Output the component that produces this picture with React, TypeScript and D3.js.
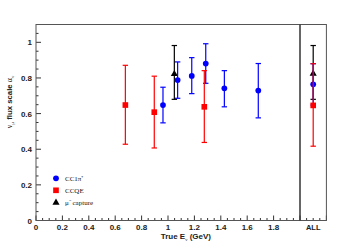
import React, { useEffect, useRef } from 'react';
import * as d3 from 'd3';

interface Pt {
  e: number;
  v: number;
  hi: number;
  lo: number;
}

// blue: CC1pi+, red: CCQE, black: mu- capture; e = 2.1 is the "ALL" bin
const cc1piE = [0.962, 1.073, 1.18, 1.286, 1.427, 1.684, 2.1];
const cc1piV = [0.648, 0.788, 0.811, 0.881, 0.742, 0.729, 0.764];
const cc1piHi = [0.748, 0.89, 0.914, 0.992, 0.841, 0.881, 0.88];
const cc1piLo = [0.548, 0.686, 0.712, 0.77, 0.638, 0.576, 0.648];

const ccqeE = [0.677, 0.896, 1.275, 2.1];
const ccqeV = [0.648, 0.608, 0.638, 0.646];
const ccqeHi = [0.871, 0.81, 0.841, 0.88];
const ccqeLo = [0.428, 0.407, 0.438, 0.417];

const capE = [1.048, 2.1];
const capV = [0.822, 0.824];
const capHi = [0.982, 0.982];
const capLo = [0.68, 0.68];

const xTicks = [0, 0.2, 0.4, 0.6, 0.8, 1, 1.2, 1.4, 1.6, 1.8];
const yTicks = [0, 0.2, 0.4, 0.6, 0.8, 1];

const zip = (e: number[], v: number[], hi: number[], lo: number[]): Pt[] =>
  e.map((d, i) => ({ e: d, v: v[i], hi: hi[i], lo: lo[i] }));

const App: React.FC = () => {
  const svgRef = useRef<SVGSVGElement>(null);

  useEffect(() => {
    if (!svgRef.current) return;
    const svg = d3.select(svgRef.current);
    svg.selectAll('*').remove();

    const x = d3.scaleLinear().domain([0, 2.2]).range([36, 326.4]);
    const y = d3.scaleLinear().domain([0, 1.1]).range([220.5, 24.5]);
    const axisFont = '"Liberation Sans", Arial, sans-serif';

    // minor + major ticks (inside the frame)
    const g = svg.append('g').attr('stroke', '#333').attr('stroke-width', 1);
    d3.range(0, 2.2001, 0.05).forEach(t => {
      const major = Math.abs(t / 0.2 - Math.round(t / 0.2)) < 1e-6;
      g.append('line')
        .attr('x1', x(t)).attr('x2', x(t))
        .attr('y1', y(0)).attr('y2', y(0) - (major ? 5 : 2.5));
    });
    d3.range(0, 1.1001, 0.05).forEach(t => {
      const major = Math.abs(t / 0.2 - Math.round(t / 0.2)) < 1e-6;
      g.append('line')
        .attr('x1', x(0)).attr('x2', x(0) + (major ? 5 : 2.5))
        .attr('y1', y(t)).attr('y2', y(t));
    });

    // frame
    svg.append('rect')
      .attr('x', x(0)).attr('y', y(1.1))
      .attr('width', x(2.2) - x(0)).attr('height', y(0) - y(1.1))
      .attr('fill', 'none').attr('stroke', '#555').attr('stroke-width', 1);
    svg.append('line')
      .attr('x1', x(2)).attr('x2', x(2))
      .attr('y1', y(1.1)).attr('y2', y(0))
      .attr('stroke', '#333').attr('stroke-width', 1.5);

    // tick labels
    svg.append('g').selectAll('text').data(yTicks).enter().append('text')
      .attr('x', 32).attr('y', d => y(d) + 3)
      .attr('text-anchor', 'end')
      .attr('font-family', axisFont).attr('font-weight', 'bold').attr('font-size', 8)
      .attr('fill', '#222')
      .text(d => (d === 0 || d === 1 ? String(d) : d.toFixed(1)));
    svg.append('g').selectAll('text').data(xTicks).enter().append('text')
      .attr('x', d => x(d)).attr('y', 230)
      .attr('text-anchor', 'middle')
      .attr('font-family', axisFont).attr('font-weight', 'bold').attr('font-size', 8)
      .attr('fill', '#222')
      .text(d => (d === 0 || d === 1 ? String(d) : d.toFixed(1)));
    svg.append('text')
      .attr('x', x(2.1)).attr('y', 230)
      .attr('text-anchor', 'middle')
      .attr('font-family', axisFont).attr('font-weight', 'bold').attr('font-size', 7.5)
      .attr('fill', '#222')
      .text('ALL');

    // axis titles
    const xt = svg.append('text')
      .attr('x', 211).attr('y', 239)
      .attr('text-anchor', 'end')
      .attr('font-family', axisFont).attr('font-weight', 'bold').attr('font-size', 8)
      .attr('fill', '#222');
    xt.append('tspan').text('True E');
    xt.append('tspan').attr('font-size', 5).attr('dy', 1.5).attr('font-family', 'serif').attr('font-weight', 'normal').text('ν');
    xt.append('tspan').attr('dy', -1.5).text(' (GeV)');

    const yt = svg.append('text')
      .attr('transform', 'translate(12,102) rotate(-90)')
      .attr('text-anchor', 'middle')
      .attr('font-family', axisFont).attr('font-weight', 'bold').attr('font-size', 7.8)
      .attr('fill', '#222');
    yt.append('tspan').attr('font-family', 'serif').attr('font-weight', 'normal').text('ν');
    yt.append('tspan').attr('font-size', 5).attr('dy', 1.5).attr('font-family', 'serif').attr('font-weight', 'normal').text('μ');
    yt.append('tspan').attr('dy', -1.5).text(' flux scale ');
    yt.append('tspan').attr('font-family', 'serif').attr('font-weight', 'normal').text('α');
    yt.append('tspan').attr('font-size', 5).attr('dy', 1.5).attr('font-family', 'serif').attr('font-weight', 'normal').text('ν');

    const drawSeries = (pts: Pt[], color: string, marker: string) => {
      const s = svg.append('g');
      pts.forEach(p => {
        const px = x(p.e);
        s.append('line').attr('x1', px).attr('x2', px).attr('y1', y(p.hi)).attr('y2', y(p.lo))
          .attr('stroke', color).attr('stroke-width', 1.2);
        [p.hi, p.lo].forEach(c => {
          s.append('line').attr('x1', px - 2.7).attr('x2', px + 2.7).attr('y1', y(c)).attr('y2', y(c))
            .attr('stroke', color).attr('stroke-width', 1.2);
        });
      });
      pts.forEach(p => {
        s.append('path')
          .attr('transform', `translate(${x(p.e)},${y(p.v)})`)
          .attr('d', marker)
          .attr('fill', color);
      });
    };

    const circle = d3.symbol(d3.symbolCircle, 26)() as string;
    const square = d3.symbol(d3.symbolSquare, 32)() as string;
    const triangle = d3.symbol(d3.symbolTriangle, 22)() as string;

    drawSeries(zip(capE, capV, capHi, capLo), '#000', triangle);
    drawSeries(zip(cc1piE, cc1piV, cc1piHi, cc1piLo), '#0000ff', circle);
    drawSeries(zip(ccqeE, ccqeV, ccqeHi, ccqeLo), '#ff0000', square);

    // legend
    const legend = [
      { label: 'CC1π⁺', color: '#0000ff', marker: circle, yy: 178.3 },
      { label: 'CCQE', color: '#ff0000', marker: square, yy: 190.3 },
      { label: 'μ⁻ capture', color: '#000', marker: triangle, yy: 202.7 },
    ];
    legend.forEach(l => {
      svg.append('path').attr('transform', `translate(56,${l.yy})`).attr('d', l.marker).attr('fill', l.color);
      svg.append('text')
        .attr('x', 65).attr('y', l.yy + 2.5)
        .attr('font-family', '"Liberation Serif", "Times New Roman", serif')
        .attr('font-size', 7).attr('fill', '#111')
        .text(l.label);
    });
  }, []);

  return (
    <svg
      ref={svgRef}
      width={363}
      height={246}
      style={{ position: 'absolute', left: 0, top: 0, background: '#fff' }}
    />
  );
};

export default App;
